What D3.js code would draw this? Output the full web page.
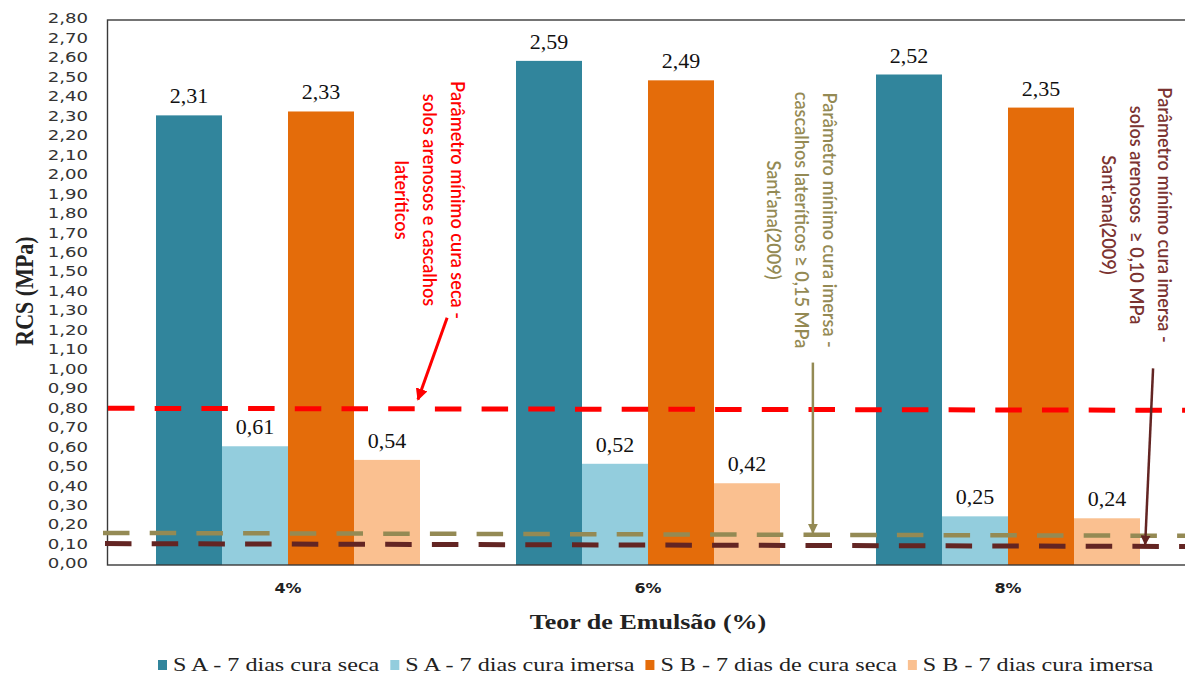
<!DOCTYPE html>
<html>
<head>
<meta charset="utf-8">
<script src="https://cdn.jsdelivr.net/npm/d3@7"></script>
<style>
  body { margin: 0; background: #fff; }
  svg { display: block; }
</style>
</head>
<body>
<div id="chart"></div>
<script>
// dados
var categories = ["4%", "6%", "8%"];
var seriesNames = ["S A - 7 dias cura seca", "S A - 7 dias cura imersa", "S B - 7 dias de cura seca", "S B - 7 dias cura imersa"];
var saSeca = [2.31, 2.59, 2.52];
var saImersa = [0.61, 0.52, 0.25];
var sbSeca = [2.33, 2.49, 2.35];
var sbImersa = [0.54, 0.42, 0.24];
var colors = ["#31859C", "#93CDDD", "#E46C0A", "#FAC090"];
var yTicks = d3.range(0, 29).map(function(i){ return i / 10; });

// limites (valor no início e no fim da linha tracejada)
var limRed = [0.805, 0.795];
var limOlive = [0.165, 0.15];
var limBrown = [0.11, 0.095];

var W = 1185, H = 674;
var margin = {left: 108, top: 20, bottom: 109};
var plotRight = 1188;

var svg = d3.select("#chart").append("svg")
  .attr("width", W).attr("height", H);

var x = d3.scaleBand().domain(categories).range([margin.left, plotRight]).paddingInner(0).paddingOuter(0);
var xLin = d3.scaleLinear().domain([0, 3]).range([margin.left, plotRight]);
var xSub = d3.scaleBand().domain(d3.range(4)).range([48, x.bandwidth() - 48]);
var y = d3.scaleLinear().domain([0, 2.8]).range([H - margin.bottom, margin.top]);

var fmt = d3.formatLocale({decimal: ",", thousands: ".", grouping: [3], currency: ["R$", ""]}).format(".2f");

// alarga o texto na horizontal (o original está esticado)
function stretch(sel, k) {
  sel.each(function(){
    var w = this.getComputedTextLength();
    this.__w = w * k;
    this.setAttribute("textLength", w * k);
    this.setAttribute("lengthAdjust", "spacingAndGlyphs");
  });
}

var series = [saSeca, saImersa, sbSeca, sbImersa];
var rows = [];
series.forEach(function(vals, s){
  vals.forEach(function(v, c){ rows.push({s: s, cat: categories[c], v: v}); });
});

// barras
svg.append("g").selectAll("rect").data(rows).enter().append("rect")
  .attr("x", function(d){ return x(d.cat) + xSub(d.s); })
  .attr("width", xSub.bandwidth())
  .attr("y", function(d){ return y(d.v); })
  .attr("height", function(d){ return y(0) - y(d.v); })
  .attr("fill", function(d){ return colors[d.s]; });

// moldura
svg.append("rect")
  .attr("x", margin.left - 0.5).attr("y", margin.top)
  .attr("width", plotRight - margin.left).attr("height", y(0) - margin.top)
  .attr("fill", "none").attr("stroke", "#3a3a3a").attr("stroke-width", 1.4);

// rótulos de valor
svg.append("g").selectAll("text").data(rows).enter().append("text")
  .attr("x", function(d){ return x(d.cat) + xSub(d.s) + xSub.bandwidth() / 2; })
  .attr("y", function(d){ return y(d.v) - 12; })
  .attr("text-anchor", "middle")
  .attr("font-family", "Liberation Serif, Times New Roman, serif")
  .attr("font-size", 22)
  .attr("fill", "#111")
  .text(function(d){ return fmt(d.v); });

// eixo y
var yAxis = svg.append("g")
  .attr("transform", "translate(" + margin.left + ",0)")
  .call(d3.axisLeft(y).tickValues(yTicks).tickFormat(fmt).tickSize(0).tickPadding(20));
yAxis.select(".domain").remove();
yAxis.selectAll("text")
  .attr("font-family", "DejaVu Sans, sans-serif")
  .attr("font-size", 14.5)
  .attr("fill", "#333")
  .attr("dy", "0.2em")
  .call(stretch, 1.25);

// eixo x
var xAxis = svg.append("g")
  .attr("transform", "translate(0," + y(0) + ")")
  .call(d3.axisBottom(x).tickSize(0).tickPadding(18));
xAxis.select(".domain").remove();
xAxis.selectAll("text")
  .attr("font-family", "DejaVu Sans, sans-serif")
  .attr("font-weight", "bold")
  .attr("font-size", 14.5)
  .attr("fill", "#222")
  .call(stretch, 1.1);

// títulos
svg.append("text")
  .attr("x", 648).attr("y", 629)
  .attr("text-anchor", "middle")
  .attr("font-family", "Liberation Serif, Times New Roman, serif")
  .attr("font-weight", "bold").attr("font-size", 21).attr("fill", "#222")
  .text("Teor de Emulsão (%)")
  .call(stretch, 1.24);

svg.append("text")
  .attr("transform", "translate(33,291) rotate(-90)")
  .attr("text-anchor", "middle")
  .attr("font-family", "Liberation Serif, Times New Roman, serif")
  .attr("font-weight", "bold").attr("font-size", 25).attr("fill", "#222")
  .text("RCS (MPa)")
  .call(stretch, 0.88);

// linhas de limite
var limits = [
  {v: limOlive, color: "#948A54", w: 4.5, x0: 103},
  {v: limBrown, color: "#632523", w: 5, x0: 105},
  {v: limRed, color: "#FF0000", w: 5, x0: margin.left}
];
svg.append("g").selectAll("line").data(limits).enter().append("line")
  .attr("x1", function(d){ return d.x0; })
  .attr("x2", plotRight)
  .attr("y1", function(d){ return y(d.v[0]); })
  .attr("y2", function(d){ return y(d.v[1]); })
  .attr("stroke", function(d){ return d.color; })
  .attr("stroke-width", function(d){ return d.w; })
  .attr("stroke-dasharray", "26.5 20.2");

// setas (posição em categoria, valor)
var arrows = [
  {from: [0.942, 1.27], to: [0.861, 0.85], color: "#FF0000", w: 3, id: "aRed"},
  {from: [1.958, 1.04], to: [1.958, 0.165], color: "#948A54", w: 2.5, id: "aOlive"},
  {from: [2.903, 1.01], to: [2.881, 0.105], color: "#632523", w: 2.5, id: "aBrown"}
];
var defs = svg.append("defs");
arrows.forEach(function(a){
  defs.append("marker")
    .attr("id", a.id).attr("viewBox", "0 0 10 10")
    .attr("refX", 9).attr("refY", 5)
    .attr("markerWidth", 4).attr("markerHeight", 4)
    .attr("markerUnits", "strokeWidth")
    .attr("orient", "auto")
    .append("path").attr("d", "M0,0 L10,5 L0,10 Z").attr("fill", a.color);
});
svg.append("g").selectAll("line").data(arrows).enter().append("line")
  .attr("x1", function(d){ return xLin(d.from[0]); })
  .attr("y1", function(d){ return y(d.from[1]); })
  .attr("x2", function(d){ return xLin(d.to[0]); })
  .attr("y2", function(d){ return y(d.to[1]); })
  .attr("stroke", function(d){ return d.color; })
  .attr("stroke-width", function(d){ return d.w; })
  .attr("marker-end", function(d){ return "url(#" + d.id + ")"; });

// anotações (texto vertical)
var notes = [
  {lines: ["Parâmetro mínimo cura seca -", "solos arenosos e cascalhos", "lateríticos"], color: "#FF0000", x: 0.972, v: 1.875},
  {lines: ["Parâmetro mínimo cura imersa -", "cascalhos lateríticos ≥ 0,15 MPa", "Sant'ana(2009)"], color: "#948A54", x: 2.006, v: 1.772},
  {lines: ["Parâmetro mínimo cura imersa -", "solos arenosos  ≥ 0,10 MPa", "Sant'ana(2009)"], color: "#7B3331", x: 2.936, v: 1.798}
];
notes.forEach(function(n){
  n.lines.forEach(function(line, i){
    svg.append("text")
      .attr("transform", "translate(" + (xLin(n.x) - i * 28) + "," + y(n.v) + ") rotate(90)")
      .attr("text-anchor", "middle")
      .attr("dy", "0.35em")
      .attr("font-family", "Lato, Open Sans, sans-serif")
      .attr("font-weight", 600)
      .attr("font-size", 19.5)
      .attr("fill", n.color)
      .style("white-space", "pre")
      .text(line)
      .call(stretch, 0.93);
  });
});

// legenda
var legend = svg.append("g");
var lx = 158;
seriesNames.forEach(function(name, i){
  legend.append("rect")
    .attr("x", lx).attr("y", 660).attr("width", 9).attr("height", 10)
    .attr("fill", colors[i]);
  var t = legend.append("text")
    .attr("x", lx + 15).attr("y", 671)
    .attr("font-family", "Liberation Serif, Times New Roman, serif")
    .attr("font-size", 18).attr("fill", "#222")
    .text(name)
    .call(stretch, 1.34);
  lx += 15 + t.node().__w + 11;
});
</script>
</body>
</html>
